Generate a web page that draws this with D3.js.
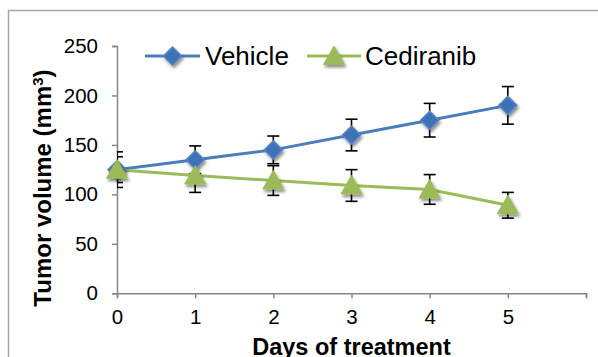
<!DOCTYPE html>
<html>
<head>
<meta charset="utf-8">
<script src="https://cdn.jsdelivr.net/npm/d3@7"></script>
<style>
  body { margin: 0; background: #fff; }
  svg { display: block; font-family: "Liberation Sans", Arial, sans-serif; }
</style>
</head>
<body>
<div id="chart"></div>
<script>
// Data
const days = [0, 1, 2, 3, 4, 5];
const vehicle = [125, 135, 145, 160, 175, 190];
const vehicleErr = [13, 14, 14, 16, 17, 19];
const cediranib = [125, 119, 114, 109, 105, 89];
const cediranibErr = [18, 17, 15, 16, 15, 13];
const yTicks = [0, 50, 100, 150, 200, 250];
const xTicks = [0, 1, 2, 3, 4, 5, 6];
const xLabels = ["0", "1", "2", "3", "4", "5", ""];

const width = 598, height = 357;
const blue = "#4a7ebb", green = "#9bbb59";

const svg = d3.select("#chart").append("svg")
    .attr("width", width)
    .attr("height", height);

// Soft marker shadow
const defs = svg.append("defs");
defs.append("filter").attr("id", "shadow")
    .attr("x", "-50%").attr("y", "-50%").attr("width", "200%").attr("height", "200%")
  .append("feDropShadow")
    .attr("dx", 1.5).attr("dy", 2.5).attr("stdDeviation", 1.5)
    .attr("flood-color", "#000").attr("flood-opacity", 0.45);

const x = d3.scaleLinear().domain([0, 6]).range([117, 586]);
const y = d3.scaleLinear().domain([0, 250]).range([293.3, 46]);

defs.append("clipPath").attr("id", "plot")
  .append("rect")
    .attr("x", x(0)).attr("y", 0)
    .attr("width", x(6) - x(0)).attr("height", y(0));

// Outer frame
svg.append("rect")
    .attr("x", 8.5).attr("y", 10.5)
    .attr("width", 620).attr("height", 400)
    .attr("fill", "none")
    .attr("stroke", "#a6a6a6")
    .attr("stroke-width", 1.5);

// Axes
const yAxis = svg.append("g")
    .attr("transform", `translate(${x(0)},0)`)
    .call(d3.axisLeft(y).tickValues(yTicks).tickSize(5).tickPadding(14));
const xAxis = svg.append("g")
    .attr("transform", `translate(0,${y(0)})`)
    .call(d3.axisBottom(x).tickValues(xTicks).tickFormat((d, i) => xLabels[i]).tickSize(5).tickPadding(11));

[yAxis, xAxis].forEach(a => {
  a.select(".domain").attr("stroke", "#868686").attr("stroke-width", 1.5);
  a.selectAll(".tick line").attr("stroke", "#868686").attr("stroke-width", 1.5);
  a.selectAll("text").attr("fill", "#000")
      .style("font-size", "20.5px")
      .style("font-family", "'Liberation Sans', Arial, sans-serif");
});

// Axis titles
const yTitle = svg.append("text")
    .attr("transform", "translate(51,188) rotate(-90)")
    .attr("text-anchor", "middle")
    .style("font-size", "24px")
    .style("font-weight", "bold")
    .text("Tumor volume (mm");
yTitle.append("tspan").attr("baseline-shift", "super").style("font-size", "15px").text("3");
yTitle.append("tspan").text(")");

svg.append("text")
    .attr("x", (x(0) + x(6)) / 2)
    .attr("y", 355)
    .attr("text-anchor", "middle")
    .style("font-size", "23.5px")
    .style("font-weight", "bold")
    .text("Days of treatment");

const series = [
  { name: "Vehicle", values: vehicle, err: vehicleErr, color: blue, shape: "diamond" },
  { name: "Cediranib", values: cediranib, err: cediranibErr, color: green, shape: "triangle" }
];

const diamond = "M0,-9L9,0L0,9L-9,0Z";
const triangle = "M0,-10L10.5,8.5L-10.5,8.5Z";

// Error bars (clipped to plot area)
const errG = svg.append("g").attr("clip-path", "url(#plot)")
    .attr("stroke", "#000").attr("stroke-width", 1.6).attr("fill", "none");
series.forEach(s => {
  days.forEach((d, i) => {
    const cx = x(d), top = y(s.values[i] + s.err[i]), bot = y(s.values[i] - s.err[i]);
    errG.append("line").attr("x1", cx).attr("x2", cx).attr("y1", top).attr("y2", bot);
    errG.append("line").attr("x1", cx - 6).attr("x2", cx + 6).attr("y1", top).attr("y2", top);
    errG.append("line").attr("x1", cx - 6).attr("x2", cx + 6).attr("y1", bot).attr("y2", bot);
  });
});

// Lines
const line = d3.line().x((d, i) => x(days[i])).y(d => y(d));
series.forEach(s => {
  svg.append("path")
      .datum(s.values)
      .attr("fill", "none")
      .attr("stroke", s.color)
      .attr("stroke-width", 3)
      .attr("d", line);
});

// Markers
function marker(g, s, cx, cy) {
  if (s.shape === "diamond") {
    g.append("path").attr("d", diamond)
        .attr("transform", `translate(${cx},${cy})`)
        .attr("fill", "#3d72b6").attr("stroke", "#5585c2").attr("stroke-width", 1.5)
        .attr("filter", "url(#shadow)");
  } else {
    g.append("path").attr("d", triangle)
        .attr("transform", `translate(${cx},${cy})`)
        .attr("fill", green).attr("stroke", green).attr("stroke-width", 1)
        .attr("stroke-linejoin", "round")
        .attr("filter", "url(#shadow)");
  }
}
series.forEach(s => {
  const g = svg.append("g");
  days.forEach((d, i) => marker(g, s, x(d), y(s.values[i])));
});

// Legend
const legendPos = [{ x0: 145, x1: 200, tx: 205 }, { x0: 307, x1: 361, tx: 365 }];
series.forEach((s, i) => {
  const p = legendPos[i];
  const g = svg.append("g");
  g.append("line")
      .attr("x1", p.x0).attr("x2", p.x1).attr("y1", 56).attr("y2", 56)
      .attr("stroke", s.color).attr("stroke-width", 3);
  marker(g, s, (p.x0 + p.x1) / 2, 56);
  g.append("text")
      .attr("x", p.tx).attr("y", 65)
      .style("font-size", "26px")
      .text(s.name);
});
</script>
</body>
</html>
